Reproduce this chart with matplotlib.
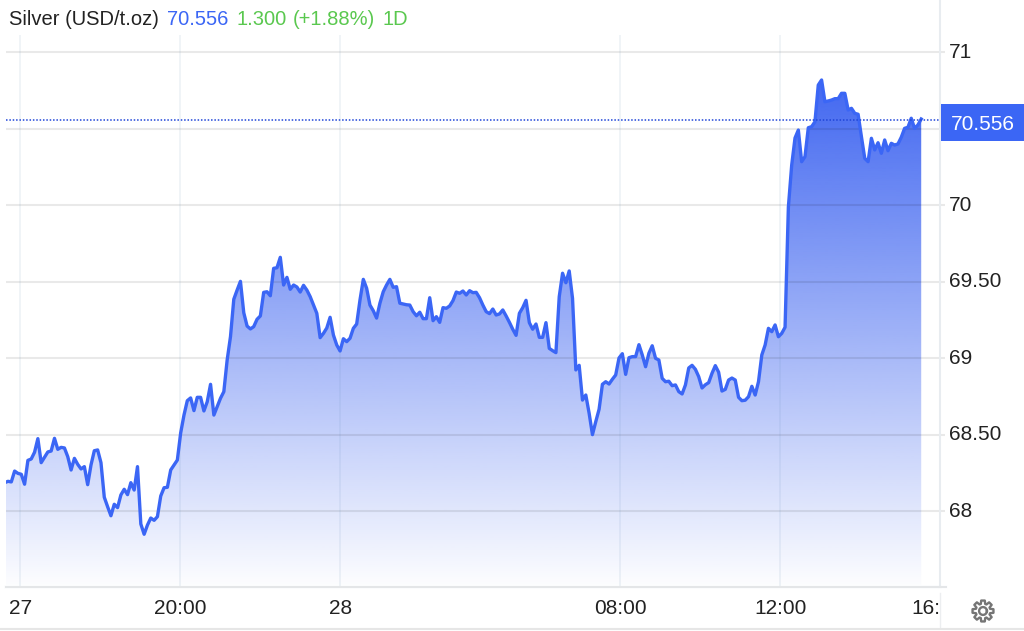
import numpy as np
import matplotlib
matplotlib.use("Agg")
import matplotlib.pyplot as plt
from matplotlib.lines import Line2D
from matplotlib.patches import Rectangle, PathPatch
from matplotlib.path import Path
from matplotlib.transforms import ScaledTranslation

plt.rcParams['font.family'] = ['Liberation Sans', 'DejaVu Sans']

prices = [
 68.185,68.194,68.190,68.261,68.246,68.240,68.175,68.331,68.340,68.384,
 68.473,68.316,68.351,68.386,68.392,68.475,68.403,68.416,68.412,68.355,
 68.268,68.344,68.305,68.275,68.290,68.172,68.301,68.394,68.399,68.316,
 68.090,68.028,67.969,68.044,68.022,68.105,68.142,68.107,68.185,68.137,
 68.290,67.915,67.848,67.908,67.954,67.939,67.963,68.098,68.152,68.155,
 68.268,68.301,68.333,68.510,68.627,68.721,68.739,68.656,68.743,68.743,
 68.654,68.714,68.828,68.627,68.682,68.737,68.780,68.987,69.139,69.384,
 69.444,69.501,69.296,69.209,69.190,69.205,69.253,69.275,69.429,69.433,
 69.407,69.586,69.590,69.658,69.477,69.527,69.449,69.477,69.464,69.431,
 69.475,69.444,69.401,69.346,69.292,69.133,69.161,69.196,69.266,69.150,
 69.085,69.046,69.126,69.107,69.129,69.194,69.222,69.379,69.514,69.456,
 69.346,69.309,69.261,69.358,69.433,69.477,69.514,69.462,69.466,69.358,
 69.353,69.348,69.346,69.303,69.276,69.299,69.257,69.257,69.394,69.244,
 69.270,69.233,69.329,69.325,69.340,69.375,69.431,69.423,69.438,69.412,
 69.440,69.427,69.429,69.394,69.346,69.303,69.290,69.320,69.281,69.288,
 69.314,69.275,69.233,69.188,69.148,69.292,69.329,69.377,69.231,69.188,
 69.222,69.135,69.135,69.231,69.063,69.048,69.035,69.401,69.554,69.492,
 69.569,69.390,68.922,68.952,68.725,68.758,68.639,68.499,68.584,68.665,
 68.828,68.845,68.830,68.861,68.889,69.000,69.028,68.893,69.002,69.009,
 69.009,69.087,69.020,68.943,69.031,69.080,68.998,68.987,68.867,68.845,
 68.848,68.819,68.824,68.780,68.765,68.824,68.935,68.952,68.926,68.878,
 68.804,68.825,68.839,68.900,68.950,68.907,68.784,68.795,68.856,68.869,
 68.856,68.743,68.721,68.724,68.747,68.815,68.758,68.845,69.020,69.085,
 69.194,69.172,69.216,69.139,69.161,69.201,69.987,70.261,70.438,70.490,
 70.283,70.316,70.505,70.512,70.544,70.784,70.817,70.675,70.680,70.686,
 70.695,70.695,70.730,70.730,70.621,70.632,70.599,70.593,70.446,70.305,
 70.283,70.436,70.360,70.407,70.338,70.425,70.355,70.403,70.392,70.399,
 70.443,70.501,70.508,70.567,70.501,70.523,70.562,
]
session_start_h = -0.396   # trading hours relative to the "27" tick
session_end_h = 22.53
last_price = 70.556
y_ticks = [68, 68.5, 69, 69.5, 70, 70.5, 71]
y_labels = ['68', '68.50', '69', '69.50', '70', '', '71']
x_ticks = [0, 4, 8, 15, 19, 23]
x_labels = ['27', '20:00', '28', '08:00', '12:00', '16:']

W, H = 1024, 631
BLUE = '#3b66f5'
GREEN = '#5ac84f'
INK = '#222222'
fig = plt.figure(figsize=(W/100, H/100), dpi=100, facecolor='white')
L, R, T, B = 6, 940, 35, 587
ax = fig.add_axes([L/W, 1-B/H, (R-L)/W, (B-T)/H])
ax.set_facecolor('none')

times = np.linspace(session_start_h, session_end_h, len(prices))
px_per_unit = 153.0
y_at = lambda py: 68 + (511 - py)/px_per_unit
ymin, ymax = y_at(B), y_at(T)
fill_floor = y_at(585)

# gradient area
grad_top = y_at(78)
a = np.linspace(0.97, 0.015, 256).reshape(-1, 1)
rgba = np.zeros((256, 1, 4))
rgba[..., :3] = matplotlib.colors.to_rgb('#3b62f0')
rgba[..., 3] = a
poly = ax.fill_between(times, prices, fill_floor, color='none', lw=0)
im = ax.imshow(rgba, extent=[times[0], times[-1], fill_floor, grad_top],
               origin='upper', aspect='auto', zorder=2, interpolation='bilinear')
im.set_clip_path(poly.get_paths()[0], transform=ax.transData)

ax.set_xlim(-0.3625, 22.9875)
ax.set_ylim(ymin, ymax)

# grid
for v in y_ticks:
    ax.axhline(v, color='black', alpha=0.085, lw=1.5, zorder=3)
for v in x_ticks[:-1]:
    ax.axvline(v, color='#5a86b0', alpha=0.11, lw=1.2, zorder=3)

ax.plot(times, prices, color=BLUE, lw=2.4, solid_joinstyle='round', zorder=4)
ax.axhline(last_price, color='#1f45d8', lw=1.1, ls=(0, (1, 1.2)), zorder=5)

# axes furniture
for s in ['top', 'left']:
    ax.spines[s].set_visible(False)
ax.spines['bottom'].set_color('#e4e6e8')
ax.spines['bottom'].set_linewidth(1.5)
ax.spines['right'].set_visible(False)
ax.yaxis.tick_right()
ax.set_yticks(y_ticks, y_labels)
ax.set_xticks(x_ticks, x_labels)
ax.tick_params(axis='y', length=3.6, width=1.5, color='#e9e9e9', pad=3,
               labelsize=15, labelcolor=INK)
ax.tick_params(axis='x', length=0, pad=9, labelsize=15, labelcolor=INK)
ax.get_xticklabels()[-1].set_ha('right')
lift = ScaledTranslation(0, 2/100, fig.dpi_scale_trans)
for lab in ax.get_yticklabels():
    lab.set_transform(lab.get_transform() + lift)


def px(x, y):
    return x/W, 1-y/H


# frame lines in figure pixels
fig.add_artist(Line2D([939.5/W, 939.5/W], [1-587/H, 1], color='#e8ecf0', lw=1.5))
fig.add_artist(Line2D([940/W, 940/W], [1-628/H, 1-593/H], color='#eceef0', lw=1))
fig.add_artist(Line2D([6/W, 946/W], [1-587/H, 1-587/H], color='#e4e6e8', lw=1.5))
fig.add_artist(Line2D([0, 1], [1-629/H, 1-629/H], color='#e6e6e6', lw=1.5))

# price tag
fig.add_artist(Rectangle(px(941, 141), 83/W, 37/H, transform=fig.transFigure,
                         facecolor=BLUE, edgecolor='none', zorder=6))
fig.text(*px(982.5, 124), f'{last_price:.3f}', color='white', fontsize=15,
         ha='center', va='center', zorder=7)

# header
header = [('Silver (USD/t.oz)', 9, INK), ('70.556', 167, BLUE), ('1.300', 236, GREEN),
          ('(+1.88%)', 293, GREEN), ('1D', 383, GREEN)]
for txt, x, col in header:
    fig.text(*px(x, 25), txt, color=col, fontsize=14.5, ha='left', va='baseline')

# settings gear
cx, cy, n = 983, 611, 8
verts = []
for k in range(n):
    base = 2*np.pi*k/n
    for da, r in [(-0.30, 7.4), (-0.17, 10.6), (0.17, 10.6), (0.30, 7.4)]:
        ang = base + da
        verts.append((cx + r*np.cos(ang), cy + r*np.sin(ang)))
verts.append(verts[0])
codes = [Path.MOVETO] + [Path.LINETO]*(len(verts)-2) + [Path.CLOSEPOLY]
to_fig = [px(*v) for v in verts]
fig.add_artist(PathPatch(Path(to_fig, codes), transform=fig.transFigure,
                         facecolor='white', edgecolor='#757575', lw=1.7, joinstyle='round'))
th = np.linspace(0, 2*np.pi, 40)
fig.add_artist(Line2D((cx + 3.9*np.cos(th))/W, 1-(cy + 3.9*np.sin(th))/H, color='#757575', lw=1.7))

fig.savefig('out.png', dpi=100, facecolor='white')
